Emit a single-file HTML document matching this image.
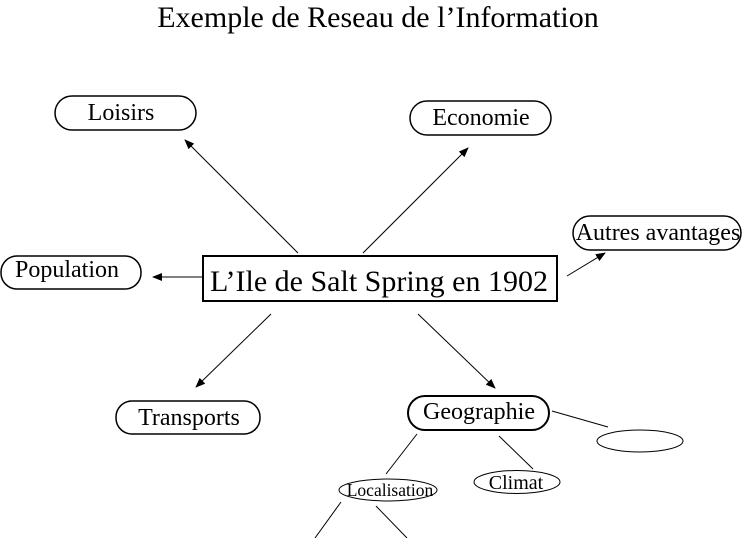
<!DOCTYPE html>
<html><head><meta charset="utf-8"><style>body{margin:0;background:#fff}svg{display:block}text{font-family:"Liberation Serif",serif;fill:#000}</style></head><body>
<svg width="743" height="538" viewBox="0 0 743 538" xmlns="http://www.w3.org/2000/svg">
<defs><marker id="a" markerWidth="10" markerHeight="8" refX="9" refY="4" orient="auto" markerUnits="userSpaceOnUse"><path d="M0,0 L10,4 L0,8 Z" fill="#000"/></marker></defs>
<text x="378" y="27" font-size="30" text-anchor="middle">Exemple de Reseau de l’Information</text>
<g fill="none" stroke="#000" stroke-width="1.5">
<rect x="55" y="96" width="141" height="34" rx="17"/>
<rect x="410" y="101" width="141" height="34" rx="17"/>
<rect x="573" y="216" width="168" height="34" rx="17"/>
<rect x="1" y="256" width="140" height="33" rx="16"/>
<rect x="116" y="401" width="144" height="33" rx="16"/>
<rect x="408" y="396" width="141" height="34" rx="17" stroke-width="2"/>
<ellipse cx="640" cy="441" rx="43" ry="11" stroke-width="1"/>
<ellipse cx="517" cy="482" rx="43" ry="11.5" stroke-width="1"/>
<ellipse cx="388" cy="490" rx="49" ry="11" stroke-width="1"/>
<rect x="203" y="256" width="354" height="45" stroke-width="2"/>
</g>
<g stroke="#000" stroke-width="1">
<line x1="298" y1="253" x2="185" y2="140" marker-end="url(#a)"/>
<line x1="363" y1="253" x2="468" y2="148" marker-end="url(#a)"/>
<line x1="202" y1="277" x2="153" y2="277" marker-end="url(#a)"/>
<line x1="567" y1="276" x2="605" y2="253" marker-end="url(#a)"/>
<line x1="271" y1="314" x2="196" y2="387" marker-end="url(#a)"/>
<line x1="418" y1="314" x2="495" y2="388" marker-end="url(#a)"/>
<line x1="552" y1="411" x2="608" y2="427"/>
<line x1="417" y1="434" x2="386" y2="474"/>
<line x1="499" y1="436" x2="533" y2="469"/>
<line x1="341" y1="502" x2="315" y2="538"/>
<line x1="376" y1="506" x2="407" y2="538"/>
</g>
<text x="121" y="120" font-size="24" text-anchor="middle">Loisirs</text>
<text x="481" y="125" font-size="24" text-anchor="middle">Economie</text>
<text x="658" y="240" font-size="24" text-anchor="middle">Autres avantages</text>
<text x="67" y="277" font-size="24" text-anchor="middle">Population</text>
<text x="379" y="291" font-size="30" text-anchor="middle">L’Ile de Salt Spring en 1902</text>
<text x="189" y="425" font-size="24" text-anchor="middle">Transports</text>
<text x="479" y="419" font-size="24" text-anchor="middle">Geographie</text>
<text x="516" y="489" font-size="20" text-anchor="middle">Climat</text>
<text x="390" y="496" font-size="17.5" text-anchor="middle">Localisation</text>
</svg>
</body></html>
